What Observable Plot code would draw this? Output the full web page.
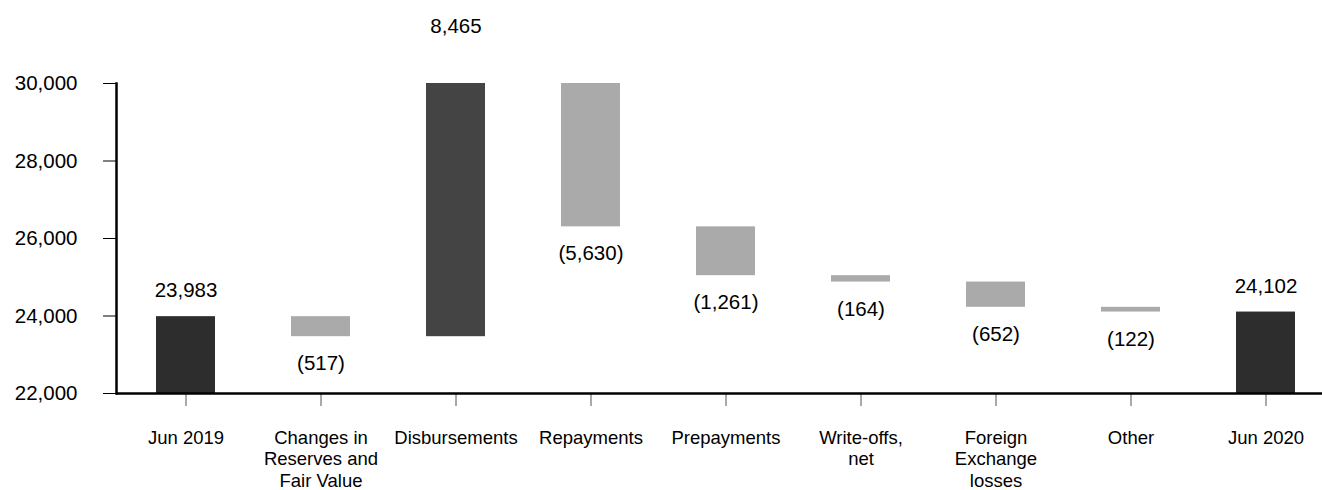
<!DOCTYPE html>
<html><head><meta charset="utf-8">
<script src="https://cdn.jsdelivr.net/npm/d3@7"></script>
<script src="https://cdn.jsdelivr.net/npm/@observablehq/plot@0.6"></script>
<style>body{margin:0;background:#fff;font-family:"Liberation Sans",Arial,sans-serif}</style>
</head><body><div id="chart"></div>
<script>
const categories = ["Jun 2019", "Changes in Reserves and Fair Value", "Disbursements", "Repayments", "Prepayments", "Write-offs, net", "Foreign Exchange losses", "Other", "Jun 2020"];
const tickLabels = ["Jun 2019", "Changes in\nReserves and\nFair Value", "Disbursements", "Repayments", "Prepayments", "Write-offs,\nnet", "Foreign\nExchange\nlosses", "Other", "Jun 2020"];
const values = [23983, -517, 8465, -5630, -1261, -164, -652, -122, 24102];
const kinds = ["total", "delta", "delta", "delta", "delta", "delta", "delta", "delta", "total"];
const yTicks = [22000, 24000, 26000, 28000, 30000];
const yDomain = [22000, 30000];

let run = 0;
const rows = categories.map((c, i) => {
  const v = values[i], k = kinds[i];
  let y1, y2;
  if (k === "total") { y1 = 0; y2 = v; run = v; }
  else { y1 = run; y2 = run + v; run = y2; }
  const top = Math.max(y1, y2), bottom = Math.min(y1, y2);
  const label = v < 0 ? "(" + d3.format(",")(-v) + ")" : d3.format(",")(v);
  const fill = k === "total" ? "#2d2d2d" : (v > 0 ? "#444444" : "#aaaaaa");
  return {c, i, y1, y2, top, bottom, label, fill, k, v};
});
const labelMap = new Map(categories.map((c, i) => [c, tickLabels[i]]));
const above = rows.filter(d => (d.k === "total" || d.v > 0) && d.top <= yDomain[1]);
const clipped = rows.filter(d => (d.k === "total" || d.v > 0) && d.top > yDomain[1]);
const below = rows.filter(d => d.k !== "total" && d.v < 0);

const font = "Liberation Sans, Arial, sans-serif";
const numSize = 20.5, catSize = 18.5;
const chart = Plot.plot({
  width: 1322, height: 490,
  marginTop: 83, marginBottom: 97, marginLeft: 116, marginRight: 0,
  style: {fontFamily: font, fontSize: "18px", color: "#000", background: "#fff"},
  x: {domain: categories, range: [116, 1335.5], paddingInner: 0.565, paddingOuter: 0.2825, axis: null},
  y: {domain: yDomain, axis: null},
  marks: [
    Plot.rectY(rows, {x: "c", y1: "y1", y2: "y2", fill: "fill", clip: true}),
    Plot.axisY(yTicks, {tickSize: 13, tickPadding: 26, tickFormat: d3.format(","), fontSize: numSize, stroke: "#000", strokeWidth: 1, strokeOpacity: 1, label: null}),
    Plot.axisX(categories, {tickSize: 13, tickPadding: 22, tickFormat: d => labelMap.get(d), fontSize: catSize, lineHeight: 1.16, stroke: "#555", strokeOpacity: 1, textOverflow: null, lineWidth: Infinity, label: null}),
    Plot.ruleY([yDomain[0]], {stroke: "#000", strokeWidth: 2.5}),
    Plot.frame({anchor: "left", stroke: "#000", strokeWidth: 2.5}),
    Plot.text(above, {x: "c", y: "top", text: "label", dy: -26, fontSize: numSize, fill: "#000"}),
    Plot.text(clipped, {x: "c", y: () => yDomain[1], text: "label", dy: -57, fontSize: numSize, fill: "#000"}),
    Plot.text(below, {x: "c", y: "bottom", text: "label", dy: 27, fontSize: numSize, fill: "#000"})
  ]
});
document.getElementById("chart").appendChild(chart);
</script>
</body></html>
